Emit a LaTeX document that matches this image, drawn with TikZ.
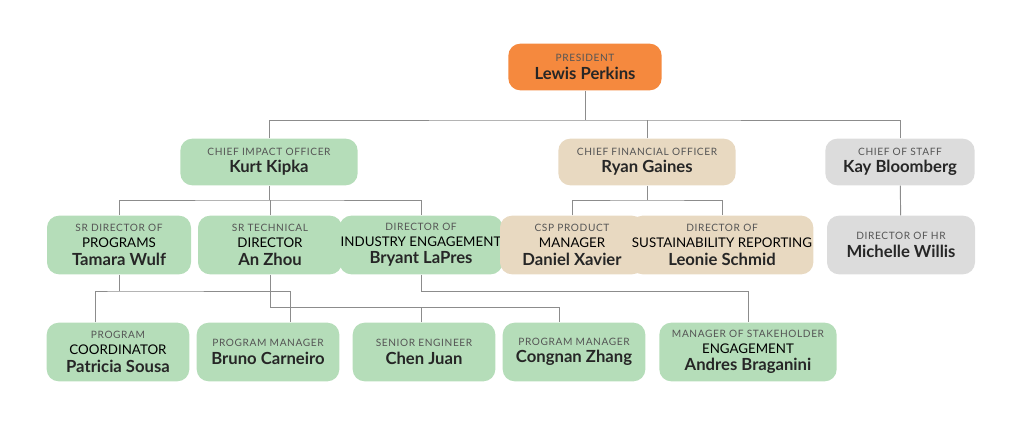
\documentclass[tikz,border=0pt]{standalone}
\usepackage{fontspec}
\setmainfont{Lato}
\usepackage{xcolor}
\usetikzlibrary{positioning}
\definecolor{impact}{HTML}{B5DDB9}
\definecolor{finance}{HTML}{E8D9C1}
\definecolor{staff}{HTML}{DCDCDC}
\definecolor{top}{HTML}{F5893E}
\definecolor{titlegray}{HTML}{555555}
\newcommand{\tfont}{\fontsize{7.6}{8.6}\selectfont\addfontfeature{LetterSpace=6}\color{titlegray}}
\newcommand{\nfont}{\fontsize{12.5}{14}\selectfont\addfontfeature{LetterSpace=0}\bfseries\color{black!85}}
\newcommand{\role}[2]{\tfont #1\\[1pt]\nfont #2}

\begin{document}
\begin{tikzpicture}[
    x=1pt, y=-1pt,
    unit/.style={rectangle, rounded corners=9pt, align=center, inner sep=1pt, minimum height=44pt},
    pres/.style={unit, fill=top, minimum width=115pt, minimum height=35pt},
    green/.style={unit, fill=impact},
    tan/.style={unit, fill=finance},
    grey/.style={unit, fill=staff},
    link/.style={draw=black!45, line width=0.7pt}
]
\useasboundingbox (0,0) rectangle (768,320);

% Top
\node[pres] (lewis) at (438.75,50.25) {\role{PRESIDENT}{Lewis Perkins}};

% Chiefs
\node[green, minimum width=133pt, minimum height=35pt] (kurt) at (201.75,121.5) {\role{CHIEF IMPACT OFFICER}{Kurt Kipka}};
\node[tan, minimum width=133pt, minimum height=35pt] (ryan) at (485.25,121.5) {\role{CHIEF FINANCIAL OFFICER}{Ryan Gaines}};
\node[grey, minimum width=112pt, minimum height=35pt] (kay) at (675,121.5) {\role{CHIEF OF STAFF}{Kay Bloomberg}};

% Directors
\node[green, minimum width=108pt] (tamara) at (89.25,183.75) {\role{SR DIRECTOR OF\\PROGRAMS}{Tamara Wulf}};
\node[green, minimum width=108pt] (an) at (202.5,183.75) {\role{SR TECHNICAL\\DIRECTOR}{An Zhou}};
\node[green, minimum width=108pt] (bryant) at (315.75,183.75) {\role{DIRECTOR OF\\INDUSTRY ENGAGEMENT}{Bryant LaPres}};
\node[tan, minimum width=108pt] (daniel) at (429,183.75) {\role{CSP PRODUCT\\MANAGER}{Daniel Xavier}};
\node[tan, minimum width=108pt] (leonie) at (541.5,183.75) {\role{DIRECTOR OF\\SUSTAINABILITY REPORTING}{Leonie Schmid}};
\node[grey, minimum width=111pt] (michelle) at (675.75,183.75) {\role{DIRECTOR OF HR}{Michelle Willis}};

% Staff
\node[green, minimum width=107pt] (patricia) at (88.5,264) {\role{PROGRAM\\COORDINATOR}{Patricia Sousa}};
\node[green, minimum width=107pt] (bruno) at (201,264) {\role{PROGRAM MANAGER}{Bruno Carneiro}};
\node[green, minimum width=107pt] (chen) at (318,264) {\role{SENIOR ENGINEER}{Chen Juan}};
\node[green, minimum width=107pt] (congnan) at (430.5,264) {\role{PROGRAM MANAGER}{Congnan Zhang}};
\node[green, minimum width=133pt] (andres) at (561,264) {\role{MANAGER OF STAKEHOLDER\\ENGAGEMENT}{Andres Braganini}};

% Bus points
\coordinate (b0) at (438.75,90);
\coordinate (b1) at (201.75,150);
\coordinate (b2) at (485.25,150);
\coordinate (b3) at (89.25,218.25);
\coordinate (b4) at (202.5,230.25);
\coordinate (b5) at (315.75,218.25);

% Connectors
\draw[link] (lewis) -- (b0);
\draw[link] (kurt.north) |- (b0) -| (kay.north);
\draw[link] (ryan.north) -- (ryan.north |- b0);
\draw[link] (kurt) -- (b1);
\draw[link] (tamara.north) |- (b1) -| (bryant.north);
\draw[link] (an.north) -- (an.north |- b1);
\draw[link] (ryan) -- (b2);
\draw[link] (daniel.north) |- (b2) -| (leonie.north);
\draw[link] (kay) -- (michelle);
\draw[link] (tamara) -- (b3);
\draw[link] ([xshift=-17pt]patricia.north) |- (b3) -| ([xshift=17pt]bruno.north);
\draw[link] (an) -- (b4) -| ([xshift=-11pt]congnan.north);
\draw[link] (chen.north -| bryant) -- (bryant.south |- b4);
\draw[link] (bryant) -- (b5) -| (andres.north);
\end{tikzpicture}
\end{document}
